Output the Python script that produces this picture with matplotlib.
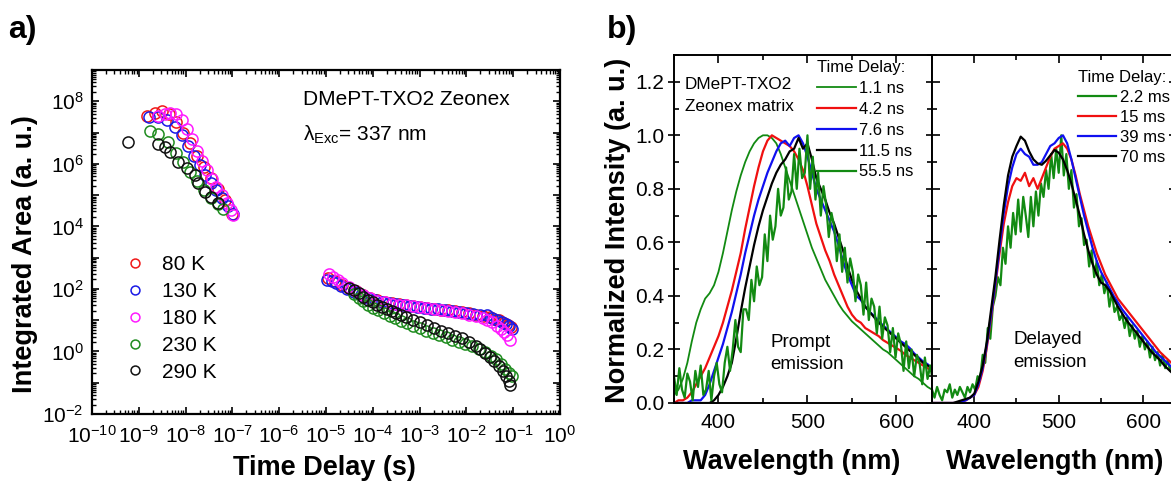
import numpy as np
import matplotlib
matplotlib.use('Agg')
import matplotlib.pyplot as plt
from matplotlib.ticker import (LogLocator, FixedLocator, FuncFormatter, NullFormatter,
                               MultipleLocator, FormatStrFormatter)

plt.rcParams['font.family'] = ['Liberation Sans', 'DejaVu Sans']
plt.rcParams['mathtext.fontset'] = 'custom'
plt.rcParams['mathtext.rm'] = 'Liberation Sans'
plt.rcParams['mathtext.it'] = 'Liberation Sans'
plt.rcParams['mathtext.bf'] = 'Liberation Sans:bold'

# ---------------- panel a: integrated area vs time delay (log10 values) ----------------
temps = ['80 K', '130 K', '180 K', '230 K', '290 K']
temp_colors = ['#f01818', '#1a1ae6', '#ff1aff', '#1f8c1f', '#111111']

logt_80 = [-8.83, -8.66, -8.51, -8.35, -8.2, -8.05, -7.9, -7.75, -7.6, -7.45, -7.3, -7.15, -7.0,
           -4.95, -4.8, -4.65, -4.5, -4.35, -4.2, -4.05, -3.9, -3.75, -3.6, -3.45, -3.3, -3.15, -3.0,
           -2.85, -2.7, -2.55, -2.4, -2.25, -2.1, -1.95, -1.8, -1.65, -1.5, -1.4, -1.3, -1.2, -1.12, -1.05]
logA_80 = [7.53, 7.62, 7.68, 7.6, 7.35, 7.0, 6.65, 6.25, 5.9, 5.55, 5.2, 4.85, 4.4,
           2.36, 2.24, 2.12, 2.02, 1.92, 1.82, 1.72, 1.64, 1.58, 1.54, 1.51, 1.48, 1.45, 1.42,
           1.39, 1.37, 1.34, 1.31, 1.28, 1.25, 1.22, 1.18, 1.14, 1.09, 1.04, 0.99, 0.92, 0.85, 0.78]

logt_130 = [-8.78, -8.6, -8.4, -8.23, -8.08, -7.94, -7.82, -7.7, -7.58, -7.46, -7.34, -7.22, -7.1, -6.98,
            -4.98, -4.88, -4.78, -4.68, -4.55, -4.4, -4.25, -4.1, -3.95, -3.8, -3.65, -3.5, -3.35, -3.2,
            -3.05, -2.9, -2.75, -2.6, -2.45, -2.3, -2.15, -2.0, -1.85, -1.7, -1.57, -1.45, -1.35, -1.25,
            -1.15, -1.08, -1.02]
logA_130 = [7.49, 7.50, 7.40, 7.17, 6.92, 6.58, 6.25, 5.95, 5.65, 5.40, 5.15, 4.90, 4.65, 4.38,
            2.30, 2.25, 2.18, 2.10, 2.00, 1.90, 1.80, 1.71, 1.64, 1.58, 1.54, 1.51, 1.48, 1.45,
            1.42, 1.40, 1.37, 1.35, 1.32, 1.30, 1.27, 1.24, 1.21, 1.18, 1.15, 1.08, 1.02, 0.95,
            0.87, 0.80, 0.72]

logt_180 = [-8.58, -8.45, -8.33, -8.2, -8.08, -7.98, -7.87, -7.76, -7.66, -7.55, -7.44, -7.34, -7.23,
            -7.12, -7.04, -6.98,
            -4.93, -4.85, -4.75, -4.65, -4.5, -4.35, -4.2, -4.05, -3.9, -3.75, -3.6, -3.45, -3.3, -3.15,
            -3.0, -2.85, -2.7, -2.55, -2.4, -2.25, -2.1, -1.95, -1.8, -1.65, -1.55, -1.45, -1.35, -1.27,
            -1.2, -1.13, -1.07]
logA_180 = [7.53, 7.60, 7.64, 7.58, 7.40, 7.10, 6.78, 6.42, 6.08, 5.80, 5.52, 5.26, 5.00,
            4.74, 4.52, 4.36,
            2.48, 2.38, 2.28, 2.19, 2.06, 1.93, 1.81, 1.70, 1.62, 1.57, 1.53, 1.50, 1.47, 1.44,
            1.41, 1.38, 1.35, 1.32, 1.29, 1.26, 1.22, 1.18, 1.13, 1.07, 1.01, 0.93, 0.82, 0.72,
            0.62, 0.52, 0.38]

logt_230 = [-8.75, -8.58, -8.37, -8.2, -8.05, -7.9, -7.75, -7.6, -7.45, -7.3, -7.2,
            -4.4, -4.3, -4.2, -4.1, -4.0, -3.88, -3.76, -3.64, -3.52, -3.4, -3.27, -3.14, -3.0,
            -2.86, -2.72, -2.58, -2.44, -2.3, -2.16, -2.02, -1.88, -1.74, -1.6, -1.48, -1.37,
            -1.27, -1.18, -1.1, -1.03]
logA_230 = [7.06, 6.95, 6.70, 6.35, 6.05, 5.75, 5.45, 5.15, 4.90, 4.70, 4.55,
            1.85, 1.72, 1.60, 1.50, 1.40, 1.31, 1.22, 1.14, 1.06, 0.98, 0.90, 0.82, 0.75,
            0.67, 0.60, 0.52, 0.45, 0.38, 0.31, 0.24, 0.17, 0.08, -0.02, -0.13, -0.25,
            -0.40, -0.55, -0.68, -0.80]

logt_290 = [-9.24, -8.58, -8.45, -8.33, -8.16, -7.98, -7.80, -7.73, -7.59, -7.45, -7.30,
            -4.5, -4.4, -4.3, -4.2, -4.1, -4.0, -3.9, -3.8, -3.7, -3.6, -3.5, -3.4, -3.3, -3.15,
            -3.0, -2.85, -2.7, -2.55, -2.4, -2.25, -2.1, -1.95, -1.8, -1.7, -1.6, -1.5, -1.4,
            -1.3, -1.22, -1.15, -1.1, -1.06]
logA_290 = [6.71, 6.63, 6.55, 6.39, 6.07, 5.86, 5.64, 5.38, 5.11, 4.95, 4.74,
            2.02, 1.95, 1.86, 1.75, 1.66, 1.58, 1.50, 1.42, 1.36, 1.30, 1.24, 1.17, 1.11, 1.02,
            0.93, 0.85, 0.76, 0.66, 0.58, 0.50, 0.42, 0.30, 0.17, 0.07, -0.04, -0.17, -0.30,
            -0.46, -0.62, -0.80, -0.95, -1.07]

series_t = [logt_80, logt_130, logt_180, logt_230, logt_290]
series_A = [logA_80, logA_130, logA_180, logA_230, logA_290]

# ---------------- panel b: normalized spectra ----------------
wl = list(range(350, 641, 5))        # smooth spectra, nm
wl_noisy = list(range(350, 642, 3))  # noisy (weak) spectra, nm

prompt_1p1 = [0.03, 0.05, 0.09, 0.15, 0.23, 0.30, 0.35, 0.39, 0.41, 0.44, 0.49, 0.56, 0.64, 0.72, 0.79,
              0.85, 0.90, 0.94, 0.97, 0.99, 1.00, 1.00, 0.99, 0.97, 0.93, 0.88, 0.83, 0.78, 0.73, 0.68,
              0.63, 0.58, 0.54, 0.50, 0.46, 0.43, 0.40, 0.37, 0.345, 0.325, 0.305, 0.29, 0.275, 0.26,
              0.245, 0.23, 0.215, 0.20, 0.19, 0.175, 0.16, 0.145, 0.13, 0.115, 0.10, 0.09, 0.075, 0.06, 0.05]
prompt_4p2 = [0.00, 0.01, 0.01, 0.02, 0.04, 0.07, 0.10, 0.13, 0.17, 0.21, 0.25, 0.30, 0.36, 0.42, 0.49,
              0.56, 0.65, 0.73, 0.81, 0.88, 0.94, 0.98, 1.00, 0.99, 0.98, 0.97, 0.96, 0.94, 0.91, 0.87,
              0.81, 0.74, 0.67, 0.62, 0.57, 0.53, 0.48, 0.44, 0.40, 0.36, 0.33, 0.31, 0.30, 0.28, 0.27,
              0.26, 0.25, 0.235, 0.225, 0.215, 0.205, 0.195, 0.18, 0.17, 0.16, 0.15, 0.14, 0.13, 0.12]
prompt_7p6 = [0.00, 0.00, 0.00, 0.00, 0.01, 0.01, 0.01, 0.03, 0.07, 0.12, 0.17, 0.22, 0.28, 0.34, 0.41,
              0.48, 0.56, 0.63, 0.70, 0.76, 0.81, 0.86, 0.90, 0.94, 0.97, 0.98, 0.96, 0.99, 1.00, 0.97,
              0.92, 0.86, 0.80, 0.76, 0.72, 0.68, 0.64, 0.59, 0.53, 0.48, 0.44, 0.40, 0.385, 0.36, 0.34,
              0.325, 0.305, 0.29, 0.275, 0.26, 0.245, 0.23, 0.22, 0.205, 0.185, 0.17, 0.155, 0.145, 0.13]
prompt_11p5 = [0.00, 0.00, 0.00, 0.00, 0.00, 0.00, 0.00, 0.00, 0.00, 0.01, 0.03, 0.06, 0.10, 0.15, 0.24,
               0.34, 0.43, 0.51, 0.59, 0.66, 0.72, 0.77, 0.82, 0.86, 0.89, 0.91, 0.94, 0.95, 0.99, 0.95,
               0.97, 0.91, 0.84, 0.80, 0.76, 0.71, 0.67, 0.62, 0.57, 0.51, 0.46, 0.42, 0.39, 0.36, 0.34,
               0.32, 0.30, 0.285, 0.27, 0.255, 0.24, 0.225, 0.21, 0.195, 0.18, 0.165, 0.15, 0.14, 0.13]
prompt_55p5 = [0.10, 0.03, 0.13, 0.05, 0.02, 0.11, 0.08, 0.01, 0.12, 0.06,
               0.14, 0.03, 0.05, 0.12, 0.01, 0.10, 0.15, 0.07, 0.04, 0.15,
               0.21, 0.12, 0.20, 0.31, 0.21, 0.19, 0.35, 0.35, 0.31, 0.46,
               0.38, 0.51, 0.44, 0.47, 0.63, 0.53, 0.70, 0.61, 0.66, 0.80,
               0.70, 0.73, 0.88, 0.76, 0.79, 0.93, 0.80, 0.95, 0.84, 0.86,
               1.00, 0.80, 0.92, 0.76, 0.86, 0.70, 0.81, 0.74, 0.62, 0.71,
               0.66, 0.53, 0.63, 0.49, 0.58, 0.45, 0.54, 0.49, 0.38, 0.48,
               0.44, 0.33, 0.45, 0.31, 0.39, 0.36, 0.26, 0.36, 0.24, 0.32,
               0.29, 0.19, 0.28, 0.17, 0.26, 0.22, 0.12, 0.23, 0.13, 0.20,
               0.10, 0.18, 0.15, 0.07, 0.17, 0.09, 0.14, 0.08]

delayed_2p2 = [0.05, 0.02, 0.06, 0.03, 0.01, 0.05, 0.04, 0.07, 0.02, 0.05,
               0.03, 0.06, 0.04, 0.02, 0.06, 0.04, 0.07, 0.05, 0.10, 0.09,
               0.18, 0.15, 0.28, 0.24, 0.36, 0.40, 0.47, 0.44, 0.58, 0.52,
               0.66, 0.58, 0.71, 0.63, 0.76, 0.64, 0.77, 0.70, 0.62, 0.77,
               0.66, 0.79, 0.70, 0.82, 0.77, 0.87, 0.80, 0.93, 0.84, 0.95,
               0.86, 1.00, 0.85, 0.93, 0.80, 0.87, 0.73, 0.78, 0.66, 0.69,
               0.59, 0.61, 0.51, 0.57, 0.47, 0.53, 0.44, 0.48, 0.41, 0.45,
               0.36, 0.41, 0.34, 0.36, 0.31, 0.33, 0.28, 0.32, 0.25, 0.29,
               0.24, 0.27, 0.21, 0.25, 0.20, 0.23, 0.17, 0.21, 0.16, 0.19,
               0.14, 0.18, 0.13, 0.16, 0.12, 0.15, 0.11, 0.13]
delayed_15 = [0.00, 0.00, 0.00, 0.00, 0.00, 0.00, 0.00, 0.005, 0.01, 0.02, 0.03, 0.06, 0.12, 0.21, 0.32,
              0.44, 0.56, 0.67, 0.75, 0.81, 0.84, 0.83, 0.86, 0.81, 0.84, 0.80, 0.84, 0.88, 0.92, 0.95,
              0.96, 0.97, 0.95, 0.91, 0.85, 0.78, 0.72, 0.66, 0.61, 0.56, 0.52, 0.48, 0.45, 0.42, 0.39,
              0.37, 0.35, 0.33, 0.31, 0.29, 0.27, 0.25, 0.23, 0.21, 0.19, 0.175, 0.16, 0.145, 0.13]
delayed_39 = [0.00, 0.00, 0.00, 0.00, 0.00, 0.00, 0.00, 0.005, 0.01, 0.02, 0.03, 0.07, 0.13, 0.22, 0.33,
              0.45, 0.58, 0.71, 0.81, 0.88, 0.93, 0.95, 0.93, 0.92, 0.89, 0.89, 0.90, 0.93, 0.96, 0.97,
              0.99, 1.00, 0.97, 0.91, 0.84, 0.77, 0.70, 0.64, 0.58, 0.53, 0.49, 0.46, 0.43, 0.40, 0.375,
              0.35, 0.33, 0.31, 0.29, 0.27, 0.25, 0.23, 0.21, 0.19, 0.175, 0.16, 0.145, 0.13, 0.12]
delayed_70 = [0.00, 0.00, 0.00, 0.00, 0.00, 0.00, 0.005, 0.01, 0.015, 0.02, 0.035, 0.08, 0.14, 0.23, 0.35,
              0.47, 0.61, 0.74, 0.85, 0.92, 0.96, 0.995, 0.98, 0.94, 0.91, 0.895, 0.89, 0.905, 0.925, 0.945,
              0.935, 0.91, 0.87, 0.82, 0.76, 0.70, 0.63, 0.57, 0.52, 0.48, 0.45, 0.44, 0.42, 0.39, 0.36,
              0.335, 0.31, 0.29, 0.27, 0.25, 0.23, 0.21, 0.19, 0.175, 0.16, 0.14, 0.125, 0.11, 0.10]

GREEN = '#128a12'

# ---------------- figure ----------------
W, H = 1171, 488
fig = plt.figure(figsize=(W / 100, H / 100), dpi=100)


def box(l, t, r, b):
    return [l / W, 1 - b / H, (r - l) / W, (b - t) / H]


ax_a = fig.add_axes(box(92, 70, 560, 414))
ax_p = fig.add_axes(box(674, 55, 932, 403))
ax_d = fig.add_axes(box(932, 55, 1177, 403))

# panel a
for lab, c, lt, la in zip(temps, temp_colors, series_t, series_A):
    ax_a.plot(10.0 ** np.array(lt), 10.0 ** np.array(la), 'o', mfc='none', mec=c,
              ms=8, mew=1.1, label=lab)

ax_a.set_xscale('log')
ax_a.set_yscale('log')
ax_a.set_xlim(1e-10, 1e0)
ax_a.set_ylim(1e-2, 1e9)
ax_a.xaxis.set_major_locator(FixedLocator([10.0 ** k for k in range(-10, 1)]))
ax_a.xaxis.set_minor_locator(LogLocator(base=10, subs=np.arange(2, 10), numticks=100))
ax_a.yaxis.set_major_locator(FixedLocator([10.0 ** k for k in range(-2, 10)]))
ax_a.yaxis.set_minor_locator(LogLocator(base=10, subs=np.arange(2, 10), numticks=100))
ax_a.xaxis.set_minor_formatter(NullFormatter())
ax_a.yaxis.set_minor_formatter(NullFormatter())
ax_a.xaxis.set_major_formatter(FuncFormatter(
    lambda v, _: r'$\mathdefault{10^{%d}}$' % round(np.log10(v))))
ax_a.yaxis.set_major_formatter(FuncFormatter(
    lambda v, _: r'$\mathdefault{10^{%d}}$' % round(np.log10(v)) if round(np.log10(v)) % 2 == 0 else ''))
ax_a.tick_params(which='both', direction='in', top=True, right=True, labelsize=15, width=1.2)
ax_a.tick_params(which='major', length=5)
ax_a.tick_params(which='minor', length=3, width=1.0)
ax_a.tick_params(axis='x', pad=8)
ax_a.tick_params(axis='y', pad=6)
for s in ax_a.spines.values():
    s.set_linewidth(1.6)

ax_a.text(0.451, 0.913, 'DMePT-TXO2 Zeonex', transform=ax_a.transAxes, fontsize=15, va='center')
ax_a.text(0.451, 0.811, r'λ$_{\mathrm{Exc}}$= 337 nm', transform=ax_a.transAxes, fontsize=15, va='center')
ax_a.legend(loc='upper left', bbox_to_anchor=(0.07, 0.462), frameon=False, fontsize=15,
            handlelength=1.0, handletextpad=0.8, labelspacing=0.38, borderpad=0, borderaxespad=0,
            markerscale=0.8)

fig.text(25 / W, 1 - 254 / H, 'Integrated Area (a. u.)', rotation=90, ha='center', va='center',
         fontsize=19.5, fontweight='bold')
fig.text(324 / W, 1 - 468 / H, 'Time Delay (s)', ha='center', va='center', fontsize=19.5,
         fontweight='bold')

# panel b - prompt
h1, = ax_p.plot(wl, prompt_1p1, color=GREEN, lw=1.3, label='1.1 ns')
h2, = ax_p.plot(wl, prompt_4p2, color='#f01010', lw=1.6, label='4.2 ns')
h3, = ax_p.plot(wl, prompt_7p6, color='#1010f0', lw=1.6, label='7.6 ns')
h4, = ax_p.plot(wl, prompt_11p5, color='black', lw=1.6, label='11.5 ns')
h5, = ax_p.plot(wl_noisy, prompt_55p5, color=GREEN, lw=1.6, label='55.5 ns')
ax_p.legend(handles=[h1, h2, h3, h4, h5], title='Time Delay:', alignment='left',
            loc='upper left', bbox_to_anchor=(0.555, 0.985), frameon=False, fontsize=12,
            title_fontsize=12, handlelength=2.3, handletextpad=0.2, labelspacing=0.35,
            borderpad=0, borderaxespad=0)
ax_p.text(0.043, 0.914, 'DMePT-TXO2', transform=ax_p.transAxes, fontsize=12.3, va='center')
ax_p.text(0.043, 0.851, 'Zeonex matrix', transform=ax_p.transAxes, fontsize=12.3, va='center')
ax_p.text(458, 0.226, 'Prompt', fontsize=13.5, va='center', ha='left')
ax_p.text(458, 0.143, 'emission', fontsize=13.5, va='center', ha='left')

# panel b - delayed
g1, = ax_d.plot(wl_noisy, delayed_2p2, color=GREEN, lw=1.6, label='2.2 ms')
g2, = ax_d.plot(wl, delayed_15, color='#f01010', lw=1.6, label='15 ms')
g3, = ax_d.plot(wl, delayed_39, color='#1010f0', lw=1.6, label='39 ms')
g4, = ax_d.plot(wl, delayed_70, color='black', lw=1.6, label='70 ms')
ax_d.legend(handles=[g1, g2, g3, g4], title='Time Delay:', alignment='left',
            loc='upper left', bbox_to_anchor=(0.596, 0.958), frameon=False, fontsize=12,
            title_fontsize=12, handlelength=2.3, handletextpad=0.2, labelspacing=0.3,
            borderpad=0, borderaxespad=0)
ax_d.text(446, 0.237, 'Delayed', fontsize=13.5, va='center', ha='left')
ax_d.text(446, 0.150, 'emission', fontsize=13.5, va='center', ha='left')

for ax in (ax_p, ax_d):
    ax.set_xlim(350, 640)
    ax.set_ylim(0, 1.3)
    ax.xaxis.set_major_locator(MultipleLocator(100))
    ax.xaxis.set_minor_locator(MultipleLocator(50))
    ax.yaxis.set_major_locator(MultipleLocator(0.2))
    ax.yaxis.set_minor_locator(MultipleLocator(0.1))
    ax.tick_params(which='both', direction='in', top=True, right=True, labelsize=15, width=1.2)
    ax.tick_params(which='major', length=6)
    ax.tick_params(which='minor', length=3.5)
    ax.tick_params(axis='x', pad=7)
    for s in ax.spines.values():
        s.set_linewidth(1.4)
ax_p.yaxis.set_major_formatter(FormatStrFormatter('%.1f'))
ax_p.tick_params(axis='y', which='major', direction='inout', length=8, pad=3)
ax_d.tick_params(axis='y', labelleft=False)

fig.text(618 / W, 1 - 230 / H, 'Normalized Intensity (a. u.)', rotation=90, ha='center',
         va='center', fontsize=19.5, fontweight='bold')
fig.text(792 / W, 1 - 462 / H, 'Wavelength (nm)', ha='center', va='center', fontsize=19.5,
         fontweight='bold')
fig.text(1055 / W, 1 - 462 / H, 'Wavelength (nm)', ha='center', va='center', fontsize=19.5,
         fontweight='bold')

fig.text(8 / W, 1 - 30 / H, 'a)', ha='left', va='center', fontsize=23, fontweight='bold')
fig.text(607 / W, 1 - 30 / H, 'b)', ha='left', va='center', fontsize=23, fontweight='bold')

fig.savefig('out.png', dpi=100)
